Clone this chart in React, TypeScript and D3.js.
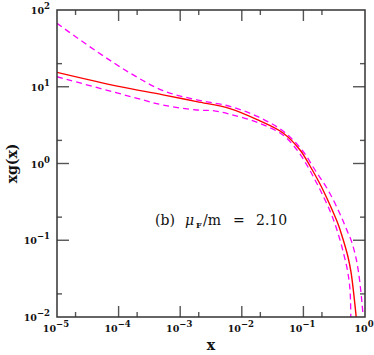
import React from "react";
import * as d3 from "d3";

// central curve (red, solid)
const centralX = [1e-5, 1e-4, 5.26e-4, 1.86e-3, 6.43e-3, 0.0183, 0.0467, 0.0881, 0.128, 0.186, 0.27, 0.365, 0.444, 0.53, 0.592, 0.646, 0.701, 0.728];
const centralY = [15.4, 10.1, 7.85, 6.4, 5.2, 3.69, 2.5, 1.5, 0.928, 0.541, 0.288, 0.163, 0.1007, 0.0605, 0.0386, 0.0225, 0.0123, 0.0091];

// upper band (magenta, dashed)
const upperX = [1e-5, 4.5e-5, 1.6e-4, 5.26e-4, 1.86e-3, 6.43e-3, 0.0183, 0.0467, 0.0949, 0.1543, 0.2537, 0.3928, 0.4915, 0.6083, 0.7144, 0.7843, 0.8515, 0.894, 0.921];
const upperY = [67, 28.5, 14.8, 8.9, 6.75, 5.55, 4.07, 2.65, 1.5, 0.823, 0.4447, 0.2198, 0.1444, 0.0949, 0.0587, 0.0386, 0.0225, 0.0152, 0.0116];

// lower band (magenta, dashed)
const lowerX = [1e-5, 2.0e-4, 5.26e-4, 1.86e-3, 3.4e-3, 6.43e-3, 0.0183, 0.0466, 0.0833, 0.1188, 0.1543, 0.1982, 0.2703, 0.3258, 0.3928, 0.456, 0.5103, 0.5498, 0.5709, 0.5816, 0.5882, 0.5904];
const lowerY = [13.5, 7.07, 5.78, 4.98, 4.88, 4.38, 3.4, 2.35, 1.412, 0.9, 0.61, 0.4127, 0.2405, 0.1628, 0.1007, 0.0642, 0.0435, 0.0303, 0.0225, 0.01665, 0.01, 0.00787];

const xDecades = [-5, -4, -3, -2, -1, 0];
const yDecades = [-2, -1, 0, 1, 2];

const W = 374;
const H = 355;
const L = 57, R = 365, T = 10, B = 317;

const sup = (e: number) => (e < 0 ? "\u2212" + Math.abs(e) : String(e));

export default function App() {
  const x = d3.scaleLog().domain([1e-5, 1]).range([L, R]);
  const y = d3.scaleLog().domain([0.01, 100]).range([B, T]);

  const line = d3
    .line<[number, number]>()
    .x((d) => x(d[0]))
    .y((d) => y(d[1]))
    .curve(d3.curveCatmullRom.alpha(0.5));

  const zip = (xs: number[], ys: number[]) => xs.map((v, i) => [v, ys[i]] as [number, number]);

  const xMajor = xDecades.slice(1, -1).map((e) => Math.pow(10, e));
  const xMinor = xDecades.slice(0, -1).map((e) => 2 * Math.pow(10, e));
  const yMajor = yDecades.slice(1, -1).map((e) => Math.pow(10, e));
  const yMinor = yDecades.slice(0, -1).map((e) => 2 * Math.pow(10, e));

  const tickColor = "#555";
  const font = "'DejaVu Serif', serif";

  return (
    <svg
      width={W}
      height={H}
      style={{ position: "absolute", left: 0, top: 0, background: "#fff" }}
    >
      <defs>
        <clipPath id="plot">
          <rect x={L} y={T} width={R - L} height={B - T} />
        </clipPath>
      </defs>

      {/* ticks */}
      <g stroke={tickColor} strokeWidth={1.4}>
        {xMajor.map((v) => (
          <g key={"xM" + v}>
            <line x1={x(v)} x2={x(v)} y1={B} y2={B - 11} />
            <line x1={x(v)} x2={x(v)} y1={T} y2={T + 11} />
          </g>
        ))}
        {xMinor.map((v) => (
          <g key={"xm" + v}>
            <line x1={x(v)} x2={x(v)} y1={B} y2={B - 5} />
            <line x1={x(v)} x2={x(v)} y1={T} y2={T + 5} />
          </g>
        ))}
        {yMajor.map((v) => (
          <g key={"yM" + v}>
            <line x1={L} x2={L + 12} y1={y(v)} y2={y(v)} />
            <line x1={R} x2={R - 12} y1={y(v)} y2={y(v)} />
          </g>
        ))}
        {yMinor.map((v) => (
          <g key={"ym" + v}>
            <line x1={L} x2={L + 5} y1={y(v)} y2={y(v)} />
            <line x1={R} x2={R - 5} y1={y(v)} y2={y(v)} />
          </g>
        ))}
      </g>

      {/* curves */}
      <g clipPath="url(#plot)" fill="none">
        <path d={line(zip(upperX, upperY)) || ""} stroke="#ff00ff" strokeWidth={1.3} strokeDasharray="6,4" />
        <path d={line(zip(lowerX, lowerY)) || ""} stroke="#ff00ff" strokeWidth={1.3} strokeDasharray="6,4" />
        <path d={line(zip(centralX, centralY)) || ""} stroke="#ff0000" strokeWidth={1.4} />
      </g>

      {/* frame */}
      <rect x={L} y={T} width={R - L} height={B - T} fill="none" stroke="#333" strokeWidth={1.5} />

      {/* tick labels */}
      <g fontFamily={font} fontWeight="bold" fontSize={9.5} fill="#111">
        {xDecades.map((e) => (
          <text key={"xl" + e} x={x(Math.pow(10, e)) - 1} y={332} textAnchor="middle">
            10
            <tspan dy={-5} fontSize={8.5}>{sup(e)}</tspan>
          </text>
        ))}
        {yDecades.map((e) => (
          <text key={"yl" + e} x={50} y={y(Math.pow(10, e)) + 4} textAnchor="end">
            10
            <tspan dy={-5} fontSize={8.5}>{sup(e)}</tspan>
          </text>
        ))}
      </g>

      {/* axis titles */}
      <text x={(L + R) / 2} y={350} textAnchor="middle" fontFamily={font} fontWeight="bold" fontSize={14} fill="#111">
        x
      </text>
      <text
        transform={`translate(17,${(T + B) / 2}) rotate(-90)`}
        textAnchor="middle"
        fontFamily={font}
        fontWeight="bold"
        fontSize={14}
        fill="#111"
      >
        xg(x)
      </text>

      {/* annotation */}
      <text y={225} fontFamily={font} fontSize={14} fill="#111">
        <tspan x={155}>(b)</tspan>
        <tspan x={185} fontStyle="italic">{"\u03bc"}</tspan>
        <tspan x={196} dy={3} fontSize={8} fontWeight="bold">F</tspan>
        <tspan x={203} dy={-3}>/m</tspan>
        <tspan x={233}>=</tspan>
        <tspan x={256}>2.10</tspan>
      </text>
    </svg>
  );
}
